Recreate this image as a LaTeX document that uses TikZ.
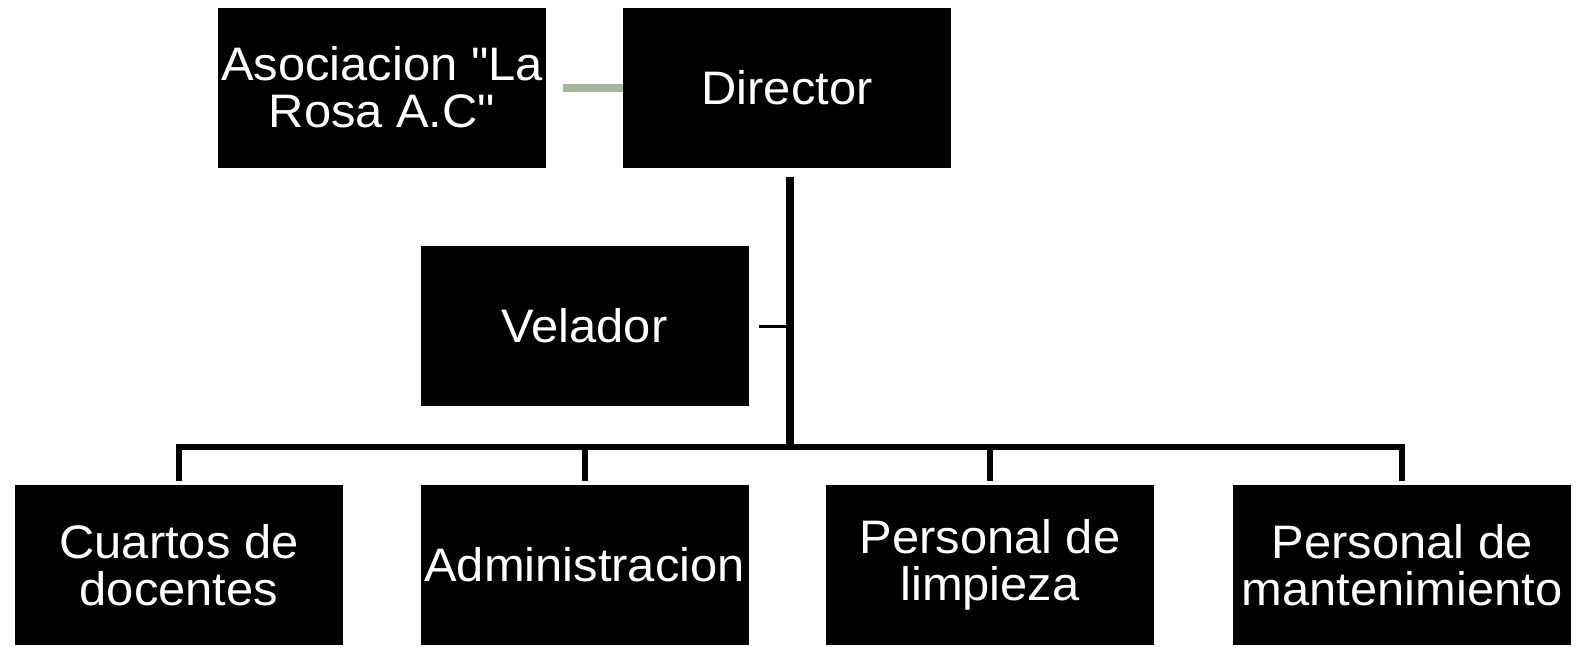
\documentclass[tikz,border=0pt]{standalone}
\usepackage{xcolor}
\usepackage{fontspec}
\setmainfont{Liberation Sans}[Ligatures=TeXOff, FakeStretch=1.04]
\definecolor{linkgreen}{HTML}{A8B59B}

\begin{document}
\begin{tikzpicture}[x=1pt, y=-1pt,
	box/.style={shape=rectangle, fill=black, text=white, inner sep=0pt,
		minimum width=328pt, minimum height=160pt, align=center,
		font=\fontsize{47}{47}\selectfont}]
	\useasboundingbox (0, 0) rectangle (1576, 646);

	\node[box] (asoc)     at (382, 87.5)   {Asociacion "La\\Rosa A.C"};
	\node[box] (dir)      at (787, 87.5)   {Director};
	\node[box] (vel)      at (584.5, 326)  {Velador};
	\node[box] (cuartos)  at (179, 565)    {Cuartos de\\docentes};
	\node[box] (admin)    at (584.5, 565)  {Administracion};
	\node[box] (limpieza) at (990, 565)    {Personal de\\limpieza};
	\node[box, minimum width=338pt]
		(mant) at (1402, 565) {Personal de\\mantenimiento};

	\coordinate (bus) at (790, 447);

	\draw[line width=8pt, linkgreen, shorten <=17pt] (asoc.east) -- (dir.west);
	\draw[line width=8pt] ([yshift=-9pt]dir.south -| bus) -- (bus);
	\draw[line width=3pt] ([xshift=10pt]vel.east) -- (vel.east -| bus);
	\draw[line width=6pt]
		([xshift=-3pt]cuartos.north |- bus) -- ([xshift=3pt]mant.north |- bus);
	\foreach \n in {cuartos, admin, limpieza, mant}
		\draw[line width=6pt] (\n.north |- bus) -- ([yshift=4pt]\n.north);
\end{tikzpicture}
\end{document}
